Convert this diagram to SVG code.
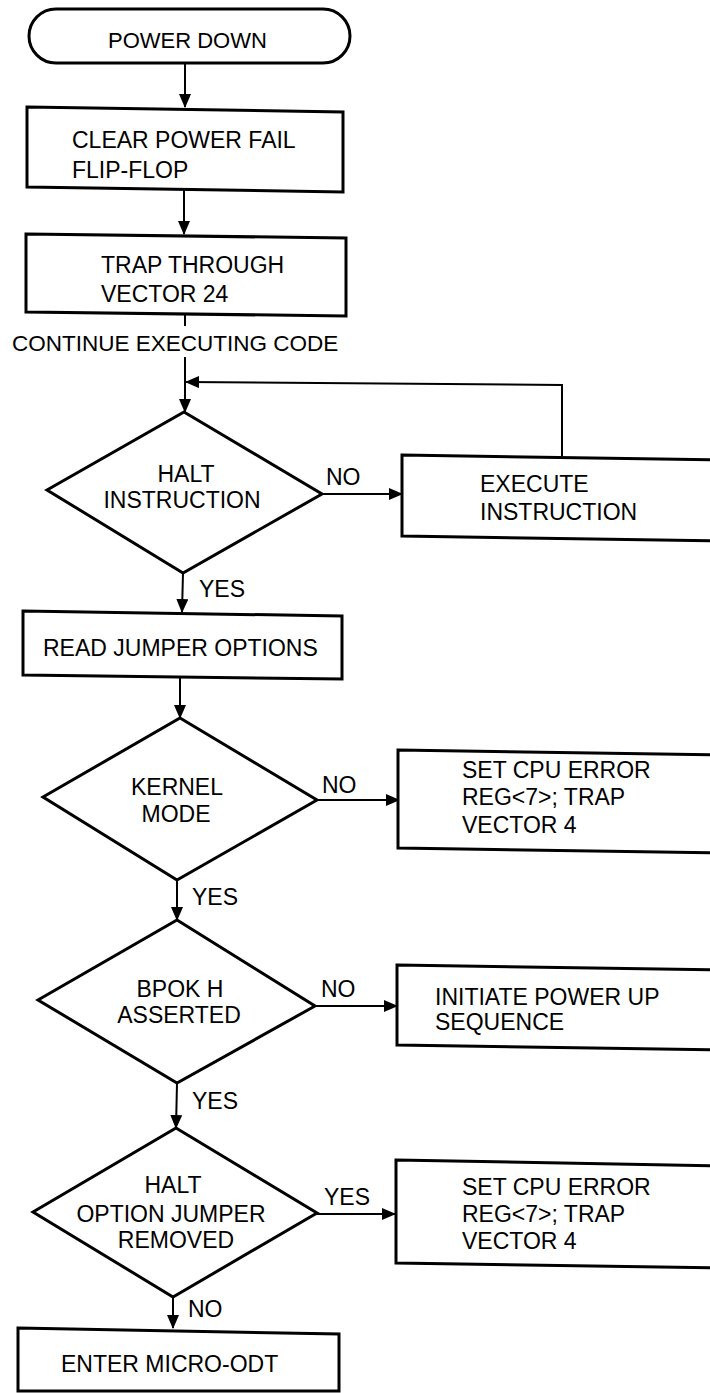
<svg xmlns="http://www.w3.org/2000/svg" width="710" height="1393" viewBox="0 0 710 1393">
<style>
.b{fill:#fff;stroke:#000;stroke-width:3;stroke-linejoin:miter}
.c{fill:none;stroke:#000;stroke-width:2}
text{font-family:"Liberation Sans",Arial,sans-serif;font-size:23px;fill:#000}
.m{text-anchor:middle}
</style>
<defs>
<marker id="ah" markerUnits="userSpaceOnUse" markerWidth="14" markerHeight="12" viewBox="0 0 14 12" refX="13" refY="6" orient="auto">
<path d="M0,0 L14,6 L0,12 Z" fill="#000"/>
</marker>
</defs>
<rect width="710" height="1393" fill="#fff"/>
<g id="connectors">
<path class="c" d="M185,63 L185,107" marker-end="url(#ah)"/>
<path class="c" d="M184,189 L184,234" marker-end="url(#ah)"/>
<path class="c" d="M185,313 L185,326"/>
<path class="c" d="M185,357 L185,412" marker-end="url(#ah)"/>
<path class="c" d="M562,456 L562,385 L186,382" marker-end="url(#ah)"/>
<path class="c" d="M322,494 L402,494" marker-end="url(#ah)"/>
<path class="c" d="M183,573 L182,612" marker-end="url(#ah)"/>
<path class="c" d="M180,677 L180,718" marker-end="url(#ah)"/>
<path class="c" d="M317,800 L399,800" marker-end="url(#ah)"/>
<path class="c" d="M177,880 L177,920" marker-end="url(#ah)"/>
<path class="c" d="M315,1006 L397,1006" marker-end="url(#ah)"/>
<path class="c" d="M177,1083 L176,1128" marker-end="url(#ah)"/>
<path class="c" d="M317,1214 L395,1214" marker-end="url(#ah)"/>
<path class="c" d="M173,1297 L173,1328" marker-end="url(#ah)"/>
<text x="326" y="485">NO</text>
<text x="199" y="597">YES</text>
<text x="322" y="793">NO</text>
<text x="192" y="905">YES</text>
<text x="321" y="997">NO</text>
<text x="192" y="1109">YES</text>
<text x="324" y="1205">YES</text>
<text x="188" y="1317">NO</text>
</g>
<g id="power-down">
<rect class="b" x="29" y="9" width="321" height="54" rx="27" ry="27"/>
<text x="108" y="48" style="font-size:22px">POWER DOWN</text>
</g>
<g id="clear-pf">
<polygon class="b" points="27,107 343,112 343,192 27,187"/>
<text x="72" y="148">CLEAR POWER FAIL</text>
<text x="72" y="178">FLIP-FLOP</text>
</g>
<g id="trap24">
<polygon class="b" points="26,234 346,238 346,316 26,312"/>
<text x="101" y="273">TRAP THROUGH</text>
<text x="101" y="302">VECTOR 24</text>
</g>
<g id="continue">
<text x="12" y="351" style="font-size:22.5px">CONTINUE EXECUTING CODE</text>
</g>
<g id="halt-instr">
<polygon class="b" points="184,412 322,494 183,573 47,490"/>
<text class="m" x="186" y="482">HALT</text>
<text class="m" x="182" y="508">INSTRUCTION</text>
</g>
<g id="execute">
<polygon class="b" points="402,455 720,460 720,541 402,536"/>
<text x="480" y="492">EXECUTE</text>
<text x="480" y="520">INSTRUCTION</text>
</g>
<g id="read-jumper">
<polygon class="b" points="23,611 342,616 342,679 23,675"/>
<text x="43" y="656">READ JUMPER OPTIONS</text>
</g>
<g id="kernel">
<polygon class="b" points="180,718 317,800 177,880 43,797"/>
<text class="m" x="177" y="795">KERNEL</text>
<text class="m" x="176" y="822">MODE</text>
</g>
<g id="err1">
<polygon class="b" points="398,750 720,755 720,853 398,848"/>
<text x="462" y="778">SET CPU ERROR</text>
<text x="462" y="805">REG&lt;7&gt;; TRAP</text>
<text x="462" y="833">VECTOR 4</text>
</g>
<g id="bpok">
<polygon class="b" points="177,920 315,1006 177,1083 38,1000"/>
<text class="m" x="180" y="997">BPOK H</text>
<text class="m" x="179" y="1023">ASSERTED</text>
</g>
<g id="powerup">
<polygon class="b" points="397,965 720,970 720,1050 397,1045"/>
<text x="435" y="1005">INITIATE POWER UP</text>
<text x="435" y="1030">SEQUENCE</text>
</g>
<g id="halt-opt">
<polygon class="b" points="176,1128 317,1213 173,1297 33,1212"/>
<text class="m" x="173" y="1193">HALT</text>
<text class="m" x="171" y="1222">OPTION JUMPER</text>
<text class="m" x="176" y="1248">REMOVED</text>
</g>
<g id="err2">
<polygon class="b" points="396,1160 720,1166 720,1268 396,1263"/>
<text x="462" y="1195">SET CPU ERROR</text>
<text x="462" y="1222">REG&lt;7&gt;; TRAP</text>
<text x="462" y="1249">VECTOR 4</text>
</g>
<g id="micro-odt">
<polygon class="b" points="18,1328 339,1334 339,1391 18,1391"/>
<text x="61" y="1372">ENTER MICRO-ODT</text>
</g>
</svg>
